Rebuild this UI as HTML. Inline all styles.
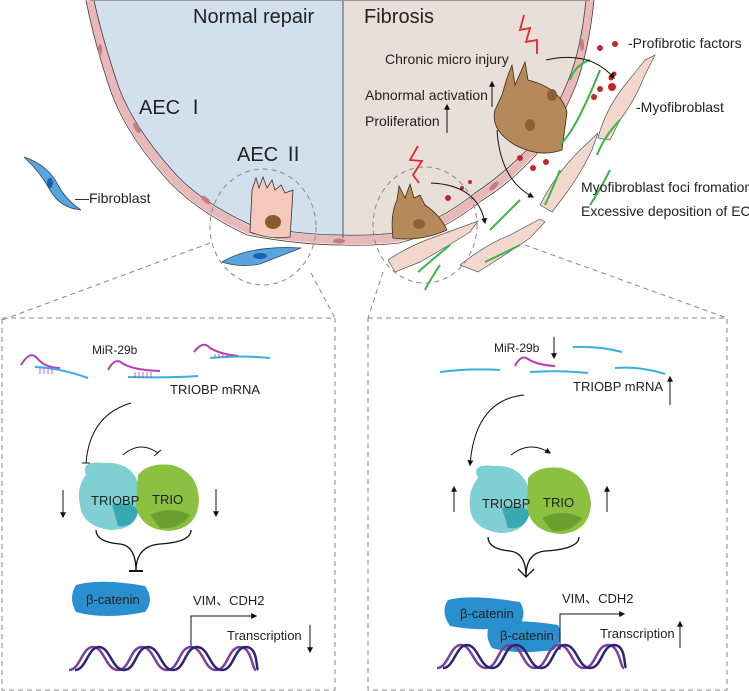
<!DOCTYPE html>
<html><head><meta charset="utf-8"><style>
body{margin:0;background:#fff}
svg{display:block}
text{font-family:"Liberation Sans","Noto Sans CJK SC",sans-serif;fill:#222}
</style></head><body>
<svg width="749" height="691" viewBox="0 0 749 691" xmlns="http://www.w3.org/2000/svg">
<defs>
<marker id="ah" viewBox="0 0 10 10" refX="8" refY="5" markerWidth="6" markerHeight="6" orient="auto"><path d="M0,0L10,5L0,10z" fill="#111"/></marker>
</defs>
<!-- bowl -->
<path d="M90,0 L343,0 L343,240 Q300,240 249,230 Q195,205 167,172 Q130,130 115,90 Q98,40 90,0Z" fill="#d2dfec"/>
<path d="M343,0 L590,0 Q585,50 572,83 Q555,125 531,153 Q505,180 478,197 Q440,228 397,238 Q370,241 343,240Z" fill="#e8dfd8"/>
<path d="M90,0 Q98,40 115,90 Q130,130 167,172 Q195,205 249,230 Q300,240 343,240 Q370,241 397,238 Q440,228 478,197 Q505,180 531,153 Q555,125 572,83 Q585,50 590,0" fill="none" stroke="#e9b8b8" stroke-width="8"/>
<path d="M86,0 Q94,42 111,92 Q126,133 163,175 Q192,209 247,235 Q300,245 343,245 Q372,246 399,243 Q443,232 481,201 Q509,184 535,156 Q559,127 576,85 Q589,50 594,0" fill="none" stroke="#4a3a3a" stroke-width="0.8"/>
<path d="M94,0 Q102,38 119,88 Q134,127 171,169 Q198,201 251,225 Q300,235 343,235 Q368,236 395,233 Q437,224 475,193 Q501,176 527,150 Q551,123 568,81 Q581,50 586,0" fill="none" stroke="#4a3a3a" stroke-width="0.8"/>
<line x1="343" y1="0" x2="343" y2="238" stroke="#555" stroke-width="1"/>
<line x1="90" y1="0.5" x2="590" y2="0.5" stroke="#999"/>
<g fill="#c47c86"><ellipse cx="100" cy="50" rx="2" ry="6"/><ellipse cx="137" cy="128" rx="2.5" ry="6" transform="rotate(-30 137 128)"/><ellipse cx="206" cy="200" rx="2.5" ry="6" transform="rotate(-50 206 200)"/><ellipse cx="339" cy="241" rx="6" ry="2.5"/><ellipse cx="494" cy="186" rx="2.5" ry="6" transform="rotate(45 494 186)"/><ellipse cx="582" cy="45" rx="2" ry="6"/></g>
<text x="193" y="23" font-size="20">Normal repair</text>
<text x="364" y="23" font-size="20">Fibrosis</text>
<text x="139" y="114" font-size="20">AEC Ⅰ</text>
<text x="237" y="161" font-size="20">AEC Ⅱ</text>
<!-- AEC II cell -->
<path d="M250,232 L252,190 L256,178 L259,188 L263,177 L267,188 L272,180 L275,190 L281,185 L285,193 L293,190 L292,207 L290,237 Q270,240 250,232Z" fill="#f4c9bc" stroke="#333" stroke-width="0.8"/>
<ellipse cx="273" cy="222" rx="8" ry="7" fill="#8a5a2b"/>
<!-- fibroblasts -->
<path d="M24,157 Q48,165 58,185 Q66,200 81,210 Q60,208 50,190 Q40,172 24,157Z" fill="#5aa4de" stroke="#2a4a6a" stroke-width="0.8"/>
<ellipse cx="50" cy="183" rx="3" ry="5" fill="#1b5fb0"/>
<text x="75" y="203" font-size="14">—Fibroblast</text>
<path d="M222,262 Q250,245 301,248 Q275,258 260,264 Q240,268 222,262Z" fill="#5aa4de" stroke="#2a4a6a" stroke-width="0.8"/>
<ellipse cx="260" cy="256" rx="7" ry="3" fill="#1b5fb0"/>
<!-- myofibroblasts -->
<g fill="#f2d8cc" stroke="#555" stroke-width="0.7">
<path d="M598,138 Q605,110 625,85 L645,60 L655,55 L645,75 Q635,100 620,120 L610,140Z"/>
<path d="M540,205 Q555,175 580,150 L598,133 L592,150 Q580,175 565,195 L552,212Z"/>
<path d="M388,260 Q410,245 440,235 L470,224 L478,221 L470,232 Q445,248 420,262 L395,272Z"/>
<path d="M460,265 Q485,245 510,235 L540,219 L545,222 L530,238 Q505,255 478,272Z"/>
</g>
<!-- brown cells -->
<g fill="#b5895a" stroke="#3a2a1a" stroke-width="0.8">
<path d="M393,238 Q390,215 397,200 L399,186 L405,198 L410,184 L414,198 L420,195 L425,205 Q440,215 447,230 Q420,242 393,238Z"/>
<path d="M495,110 L502,95 L507,78 L512,65 L515,85 L525,62 L528,80 Q560,88 567,112 L562,150 Q540,158 515,145 Q490,130 495,110Z"/>
</g>
<g fill="#8a6238"><ellipse cx="419" cy="224" rx="6" ry="5"/><ellipse cx="552" cy="95" rx="5" ry="6"/><ellipse cx="530" cy="125" rx="5" ry="6"/></g>
<!-- ECM -->
<g fill="none" stroke="#3cb44b" stroke-width="2">
<path d="M600,70 Q590,95 580,115 Q570,135 560,145"/><path d="M620,120 Q605,135 597,155"/><path d="M560,170 Q552,190 545,205"/><path d="M610,170 Q600,190 590,205"/><path d="M520,200 Q505,215 490,230"/><path d="M450,245 Q432,260 418,272"/><path d="M520,245 Q500,255 485,262"/><path d="M440,265 Q430,280 425,290"/><path d="M590,60 Q575,65 570,80"/>
</g>
<!-- red dots -->
<g fill="#c1272d"><circle cx="614" cy="74" r="2.5"/><circle cx="611" cy="78" r="2.5"/><circle cx="600" cy="89" r="3"/><circle cx="612" cy="87" r="4"/><circle cx="594" cy="97" r="3"/><circle cx="520" cy="158" r="3"/><circle cx="533" cy="168" r="3"/><circle cx="546" cy="162" r="3"/><circle cx="448" cy="198" r="3"/><circle cx="462" cy="188" r="2"/><circle cx="470" cy="182" r="2"/><circle cx="600" cy="48" r="3"/><circle cx="615" cy="44" r="3"/></g>
<!-- lightning -->
<g fill="none" stroke="#e8262d" stroke-width="1.8"><path d="M524,15 L520,30 L530,28 L526,42 L537,40 L537,54"/><path d="M418,146 L410,160 L422,161 L413,175 L419,183"/></g>
<text x="385" y="64" font-size="14">Chronic micro injury</text>
<text x="365" y="100" font-size="14">Abnormal activation</text>
<text x="365" y="126" font-size="14">Proliferation</text>
<line x1="492" y1="107" x2="492" y2="82" stroke="#111" marker-end="url(#ah)"/>
<line x1="447" y1="133" x2="447" y2="105" stroke="#111" marker-end="url(#ah)"/>
<text x="628" y="48" font-size="14">-Profibrotic factors</text>
<text x="636" y="112" font-size="14">-Myofibroblast</text>
<text x="581" y="192" font-size="14">Myofibroblast foci fromation</text>
<text x="581" y="216" font-size="14">Excessive deposition of ECM</text>
<g fill="none" stroke="#111"><path d="M546,60 Q590,50 614,78" marker-end="url(#ah)"/><path d="M497,130 Q500,180 533,197" marker-end="url(#ah)"/><path d="M431,183 Q478,185 485,223" marker-end="url(#ah)"/></g>
<!-- dashed circles & lines -->
<g fill="none" stroke="#888" stroke-dasharray="5,4">
<ellipse cx="263" cy="227" rx="53" ry="58"/>
<ellipse cx="425" cy="225" rx="52" ry="58"/>
<line x1="210" y1="243" x2="2" y2="320"/><line x1="311" y1="273" x2="335" y2="318"/>
<line x1="383" y1="272" x2="368" y2="318"/><line x1="525" y1="245" x2="727" y2="318"/>
<rect x="2" y="318" width="333" height="372"/>
<rect x="368" y="318" width="359" height="372"/>
</g>
<!-- left box -->
<g fill="none" stroke-width="2"><path d="M21,365 Q30,350 37,358 Q45,368 60,368" stroke="#b43fb4"/><path d="M35,367 Q60,368 88,378" stroke="#3aaee0"/>
<path d="M108,370 Q115,357 122,363 Q132,370 160,371" stroke="#b43fb4"/><path d="M128,377 Q170,378 198,376" stroke="#3aaee0"/>
<path d="M194,352 Q203,340 210,348 Q220,354 238,356" stroke="#b43fb4"/><path d="M210,358 Q240,355 270,358" stroke="#3aaee0"/></g>
<g stroke="#b43fb4" stroke-width="0.8"><path d="M40,368v6M44,368v6M48,368v6M52,368v6M135,372v6M139,372v6M143,372v6M147,372v6M151,372v6M215,354v4M219,354v4M223,354v4M227,354v4"/></g>
<text x="92" y="354" font-size="12">MiR-29b</text>
<text x="170" y="394" font-size="13">TRIOBP mRNA</text>
<path d="M131,403 Q90,415 86,463" fill="none" stroke="#111"/><line x1="82" y1="463" x2="90" y2="463" stroke="#111"/>
<path d="M123,455 Q140,440 158,453" fill="none" stroke="#111"/><line x1="154" y1="456" x2="161" y2="450" stroke="#111"/>
<path d="M86,475 Q80,460 105,463 Q120,462 130,470 Q142,482 140,505 Q138,530 110,530 Q82,526 80,505 Q76,488 86,475Z" fill="#7fcfd3"/>
<path d="M112,505 Q130,500 138,510 Q135,528 118,526Z" fill="#3aa8b0"/>
<path d="M138,475 Q148,462 172,465 Q198,472 199,500 Q198,528 170,531 Q140,530 136,505Z" fill="#8cc040"/>
<path d="M150,515 Q170,505 190,515 Q180,530 160,528Z" fill="#6aa030"/>
<text x="91" y="505" font-size="13">TRIOBP</text><text x="152" y="504" font-size="13">TRIO</text>
<line x1="63" y1="490" x2="63" y2="517" stroke="#111" marker-end="url(#ah)"/>
<line x1="216" y1="489" x2="216" y2="516" stroke="#111" marker-end="url(#ah)"/>
<path d="M96,530 Q96,542 120,544 Q136,546 136,571 M191,530 Q191,542 160,544 Q136,546 136,571" fill="none" stroke="#111" stroke-width="1.3"/>
<line x1="129" y1="571" x2="143" y2="571" stroke="#111" stroke-width="2"/>
<path d="M76,585 Q100,578 145,586 Q155,600 145,612 Q105,620 76,612 Q68,598 76,585Z" fill="#2a8fcf"/>
<text x="86" y="604" font-size="13">β-catenin</text>
<text x="193" y="605" font-size="13">VIM、CDH2</text>
<path d="M191,650 L191,616 L256,616" fill="none" stroke="#111" marker-end="url(#ah)"/>
<text x="227" y="640" font-size="13">Transcription</text>
<line x1="310" y1="625" x2="310" y2="652" stroke="#111" marker-end="url(#ah)"/>
<g fill="none" stroke-width="2.5"><path d="M69,670 C80,670 82,647 93,647 S106,670 118,670 S130,647 142,647 S155,670 167,670 S179,647 191,647 S204,670 216,670 S228,647 240,647 S252,670 256,670" stroke="#7b3fa0"/>
<path d="M75,670 C86,670 88,647 99,647 S112,670 124,670 S136,647 148,647 S161,670 173,670 S185,647 197,647 S210,670 222,670 S234,647 246,647 S256,668 258,670" stroke="#2a2670"/></g>
<!-- right box -->
<g fill="none" stroke-width="2"><path d="M440,372 Q470,368 500,370" stroke="#3aaee0"/>
<path d="M515,366 Q521,354 528,359 Q537,365 555,366" stroke="#b43fb4"/><path d="M530,372 Q560,370 588,373" stroke="#3aaee0"/>
<path d="M573,347 Q600,346 622,352" stroke="#3aaee0"/><path d="M615,368 Q640,366 665,374" stroke="#3aaee0"/></g>
<text x="494" y="352" font-size="12">MiR-29b</text>
<line x1="554" y1="337" x2="554" y2="358" stroke="#111" marker-end="url(#ah)"/>
<text x="573" y="391" font-size="13">TRIOBP mRNA</text>
<line x1="670" y1="405" x2="670" y2="377" stroke="#111" marker-end="url(#ah)"/>
<path d="M524,395 Q475,400 470,465" fill="none" stroke="#111" marker-end="url(#ah)"/>
<path d="M511,455 Q530,440 550,453" fill="none" stroke="#111" marker-end="url(#ah)"/>
<path d="M478,478 Q470,463 495,466 Q510,465 520,474 Q532,485 530,508 Q528,533 500,533 Q472,529 470,508 Q468,490 478,478Z" fill="#7fcfd3"/>
<path d="M502,508 Q520,503 530,512 Q526,530 508,528Z" fill="#3aa8b0"/>
<path d="M528,478 Q538,465 562,468 Q588,475 591,503 Q590,531 562,534 Q532,533 527,508Z" fill="#8cc040"/>
<path d="M542,518 Q562,508 582,518 Q572,533 552,531Z" fill="#6aa030"/>
<text x="482" y="508" font-size="13">TRIOBP</text><text x="543" y="507" font-size="13">TRIO</text>
<line x1="454" y1="512" x2="454" y2="487" stroke="#111" marker-end="url(#ah)"/>
<line x1="607" y1="512" x2="607" y2="487" stroke="#111" marker-end="url(#ah)"/>
<path d="M488,537 Q488,549 510,551 Q526,553 526,576 M579,537 Q579,549 545,551 Q526,553 526,576" fill="none" stroke="#111" stroke-width="1.3"/>
<path d="M518,569 L526,577 L534,569" fill="none" stroke="#111" stroke-width="1.3"/>
<path d="M448,600 Q470,594 520,602 Q528,615 518,627 Q480,632 450,626 Q440,612 448,600Z" fill="#2a8fcf"/>
<path d="M490,624 Q515,618 558,625 Q565,638 554,650 Q515,655 492,648 Q484,636 490,624Z" fill="#2a8fcf"/>
<text x="460" y="618" font-size="13">β-catenin</text><text x="500" y="640" font-size="13">β-catenin</text>
<text x="562" y="603" font-size="13">VIM、CDH2</text>
<path d="M560,650 L560,614 L624,614" fill="none" stroke="#111" marker-end="url(#ah)"/>
<text x="600" y="638" font-size="13">Transcription</text>
<line x1="680" y1="648" x2="680" y2="622" stroke="#111" marker-end="url(#ah)"/>
<g fill="none" stroke-width="2.5"><path d="M437,668 C448,668 450,645 461,645 S474,668 486,668 S498,645 510,645 S523,668 535,668 S547,645 559,645 S572,668 584,668 S596,645 608,645 S620,668 624,668" stroke="#7b3fa0"/>
<path d="M443,668 C454,668 456,645 467,645 S480,668 492,668 S504,645 516,645 S529,668 541,668 S553,645 565,645 S578,668 590,668 S602,645 614,645 S624,666 626,668" stroke="#2a2670"/></g>
</svg>
</body></html>
